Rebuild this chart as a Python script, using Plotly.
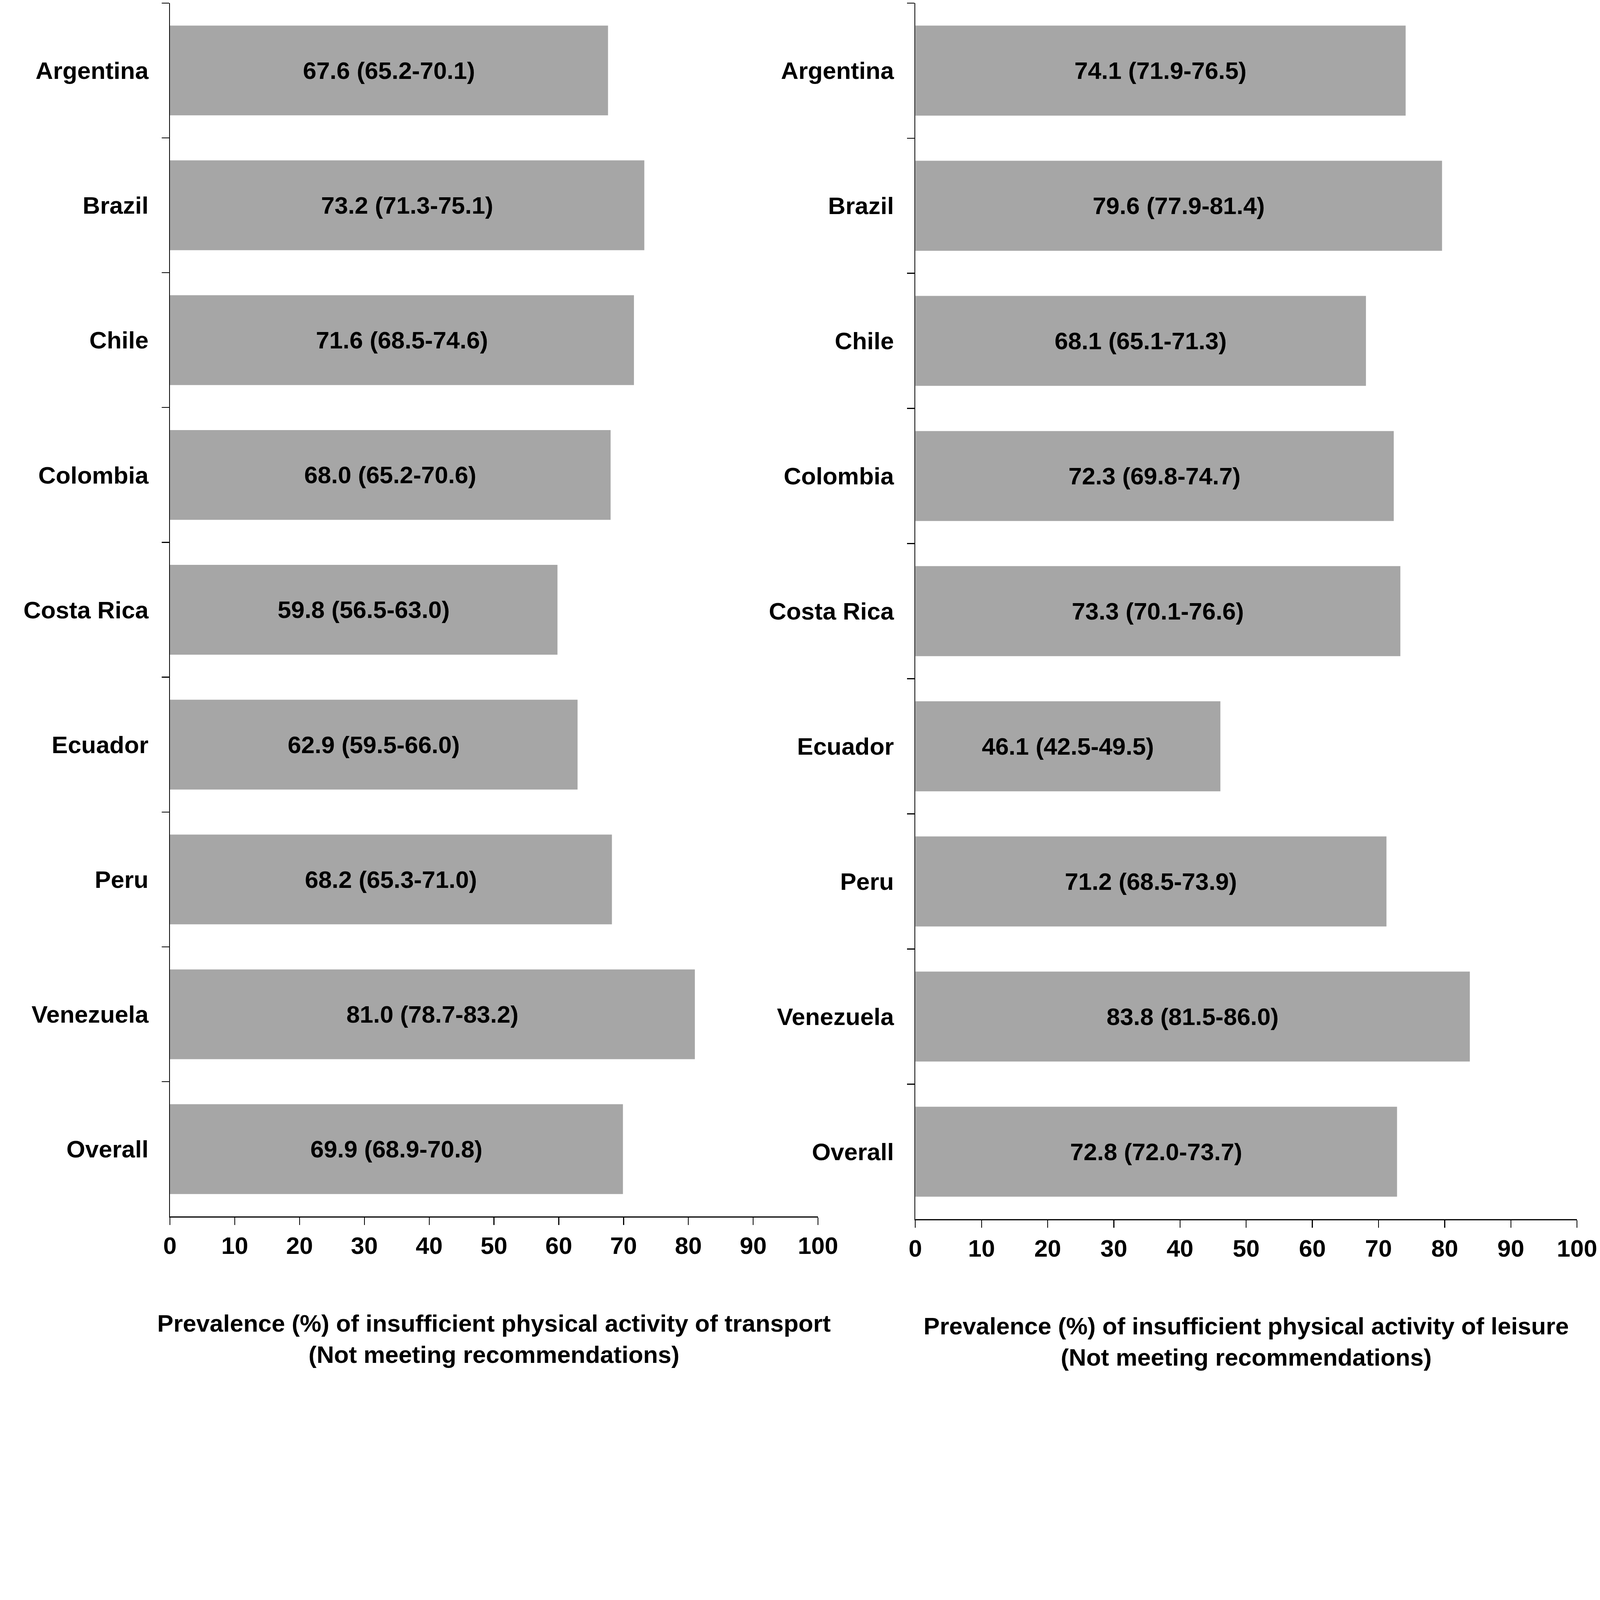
import plotly.graph_objects as go

countries = ["Argentina", "Brazil", "Chile", "Colombia", "Costa Rica",
             "Ecuador", "Peru", "Venezuela", "Overall"]

transport = [67.6, 73.2, 71.6, 68.0, 59.8, 62.9, 68.2, 81.0, 69.9]
transport_lo = [65.2, 71.3, 68.5, 65.2, 56.5, 59.5, 65.3, 78.7, 68.9]
transport_hi = [70.1, 75.1, 74.6, 70.6, 63.0, 66.0, 71.0, 83.2, 70.8]

leisure = [74.1, 79.6, 68.1, 72.3, 73.3, 46.1, 71.2, 83.8, 72.8]
leisure_lo = [71.9, 77.9, 65.1, 69.8, 70.1, 42.5, 68.5, 81.5, 72.0]
leisure_hi = [76.5, 81.4, 71.3, 74.7, 76.6, 49.5, 73.9, 86.0, 73.7]

x_ticks = [0, 10, 20, 30, 40, 50, 60, 70, 80, 90, 100]

title_left = "Prevalence (%) of insufficient physical activity of transport<br>(Not meeting recommendations)"
title_right = "Prevalence (%) of insufficient physical activity of leisure<br>(Not meeting recommendations)"

W, H = 5291, 4536
FONT = "Arial, Liberation Sans, Helvetica, sans-serif"
FS = 80
BAR_COLOR = "#A6A6A6"


def labels(v, lo, hi):
    return [f"{a:.1f} ({b:.1f}-{c:.1f})" for a, b, c in zip(v, lo, hi)]


fig = go.Figure()
fig.add_trace(go.Bar(
    y=countries, x=transport, orientation="h",
    marker=dict(color=BAR_COLOR, line=dict(width=0)),
    text=labels(transport, transport_lo, transport_hi),
    textposition="inside", insidetextanchor="middle", constraintext="none",
    textangle=0,
    insidetextfont=dict(family=FONT, size=FS, color="black", weight="bold"),
    xaxis="x", yaxis="y", showlegend=False, hoverinfo="skip",
))
fig.add_trace(go.Bar(
    y=countries, x=leisure, orientation="h",
    marker=dict(color=BAR_COLOR, line=dict(width=0)),
    text=labels(leisure, leisure_lo, leisure_hi),
    textposition="inside", insidetextanchor="middle", constraintext="none",
    textangle=0,
    insidetextfont=dict(family=FONT, size=FS, color="black", weight="bold"),
    xaxis="x2", yaxis="y2", showlegend=False, hoverinfo="skip",
))

xcommon = dict(
    range=[0, 100], tickmode="array", tickvals=x_ticks,
    showgrid=False, zeroline=False, showline=True, linecolor="black",
    linewidth=3, ticks="outside", ticklen=25, tickwidth=3, tickcolor="black",
    tickfont=dict(family=FONT, size=FS, color="black", weight="bold"),
    fixedrange=True,
)
ycommon = dict(
    type="category", categoryorder="array", categoryarray=countries,
    autorange="reversed", tickson="boundaries",
    showgrid=False, zeroline=False, showline=True, linecolor="black",
    linewidth=3, ticks="outside", ticklen=24, tickwidth=3, tickcolor="black",
    tickfont=dict(family=FONT, size=FS, color="black", weight="bold"),
    ticklabelstandoff=52,
)

fig.update_layout(
    width=W, height=H,
    margin=dict(l=0, r=0, t=0, b=0, autoexpand=False),
    paper_bgcolor="white", plot_bgcolor="white",
    bargap=0.334,
    font=dict(family=FONT, size=FS, color="black"),
    xaxis=dict(domain=[562 / W, 2705 / W], anchor="y",
               title=dict(text=title_left, standoff=185,
                          font=dict(family=FONT, size=FS, color="black", weight="bold")),
               **xcommon),
    yaxis=dict(domain=[1 - 4023 / H, 1 - 10 / H], anchor="x", **ycommon),
    xaxis2=dict(domain=[3027 / W, 5215 / W], anchor="y2",
                title=dict(text=title_right, standoff=185,
                           font=dict(family=FONT, size=FS, color="black", weight="bold")),
                **xcommon),
    yaxis2=dict(domain=[1 - 4032 / H, 1 - 10 / H], anchor="x2", **ycommon),
)

# Fit the full figure into the browser window (keeps proportions; no-op at 5291x4536)
post = """
document.documentElement.style.overflow = 'hidden';
document.body.style.margin = '0';
document.body.style.overflow = 'hidden';
var gd = document.getElementById('{plot_id}');
var s = Math.min(window.innerWidth / %d, window.innerHeight / %d, 1);
gd.style.transformOrigin = '0 0';
gd.style.transform = 'scale(' + s + ')';
""" % (W, H)
fig.write_html("out.html", post_script=post, config={"displayModeBar": False})
